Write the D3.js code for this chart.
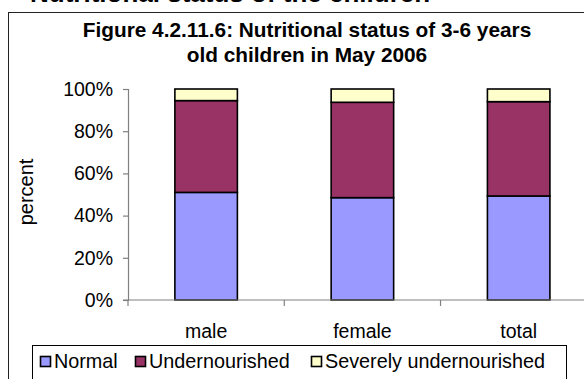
<!DOCTYPE html>
<html>
<head>
<meta charset="utf-8">
<script src="https://cdn.jsdelivr.net/npm/d3@7"></script>
<style>
  html, body { margin: 0; padding: 0; background: #fff; }
  svg { display: block; font-family: Arial, "Liberation Sans", Helvetica, sans-serif; }
</style>
</head>
<body>
<svg id="chart" width="584" height="379"></svg>
<script>
// Nutritional status of 3-6 year old children, May 2006 (percent of each group)
const categories = ["male", "female", "total"];
const seriesNames = ["Normal", "Undernourished", "Severely undernourished"];
const normal = [51.0, 48.5, 49.3];
const undernourished = [43.5, 45.2, 44.7];
const severe = [5.5, 6.3, 6.0];
const yTicks = [0, 20, 40, 60, 80, 100];
const colors = ["#9999FF", "#993366", "#FFFFCC"];

const svg = d3.select("#chart");

// Page heading running off the top edge
svg.append("text")
  .attr("x", 30).attr("y", 1.5)
  .attr("font-size", 26).attr("font-weight", "bold")
  .attr("fill", "#000")
  .text("Nutritional status of the children");

// Chart area frame
svg.append("rect")
  .attr("x", 8.5).attr("y", 12.5)
  .attr("width", 620).attr("height", 400)
  .attr("fill", "#fff").attr("stroke", "#222").attr("stroke-width", 1);

// Title
const title = svg.append("text")
  .attr("text-anchor", "middle")
  .attr("font-size", 20.8).attr("font-weight", "bold")
  .attr("fill", "#000");
title.append("tspan").attr("x", 307).attr("y", 37).text("Figure 4.2.11.6: Nutritional status of 3-6 years");
title.append("tspan").attr("x", 307).attr("y", 62).text("old children in May 2006");

// Stack the three series per category
const rows = categories.map((c, i) => ({
  cat: c,
  Normal: normal[i],
  Undernourished: undernourished[i],
  "Severely undernourished": severe[i]
}));
const stacked = d3.stack().keys(seriesNames)(rows);

const plot = { left: 128, right: 596.8, top: 89, bottom: 300 };

const x = d3.scaleBand()
  .domain(categories)
  .range([plot.left, plot.right])
  .paddingInner(0.6).paddingOuter(0.3);
const xStep = x.step();

const y = d3.scaleLinear().domain([0, 100]).range([plot.bottom, plot.top]);

// Bars
svg.append("g")
  .selectAll("g")
  .data(stacked)
  .join("g")
    .attr("fill", (d, i) => colors[i])
  .selectAll("rect")
  .data(d => d)
  .join("rect")
    .attr("x", d => x(d.data.cat))
    .attr("width", x.bandwidth())
    .attr("y", d => y(d[1]))
    .attr("height", d => y(d[0]) - y(d[1]))
    .attr("stroke", "#000")
    .attr("stroke-width", 1.6);

// Y axis
const yAxis = d3.axisLeft(y)
  .tickValues(yTicks)
  .tickFormat(d => d + "%")
  .tickSize(5)
  .tickPadding(10);
const gy = svg.append("g")
  .attr("transform", `translate(${plot.left},0)`)
  .call(yAxis);
gy.select(".domain").attr("stroke", "#808080").attr("stroke-width", 1.2);
gy.selectAll(".tick line").attr("stroke", "#808080").attr("stroke-width", 1.2);
gy.selectAll(".tick text")
  .attr("font-size", 19.5).attr("fill", "#000")
  .attr("font-family", "Arial, 'Liberation Sans', sans-serif");

// X axis: ticks sit between categories, labels centred under the bars
const boundaries = d3.range(categories.length + 1).map(i => plot.left + i * xStep);
const gx = svg.append("g");
gx.append("line")
  .attr("x1", plot.left - 5).attr("x2", plot.right)
  .attr("y1", plot.bottom).attr("y2", plot.bottom)
  .attr("stroke", "#808080").attr("stroke-width", 1.2);
gx.selectAll("line.tk")
  .data(boundaries)
  .join("line")
    .attr("class", "tk")
    .attr("x1", d => d).attr("x2", d => d)
    .attr("y1", plot.bottom).attr("y2", plot.bottom + 6)
    .attr("stroke", "#808080").attr("stroke-width", 1.2);
gx.selectAll("text")
  .data(categories)
  .join("text")
    .attr("x", d => x(d) + x.bandwidth() / 2)
    .attr("y", 338)
    .attr("text-anchor", "middle")
    .attr("font-size", 19.5)
    .attr("fill", "#000")
    .text(d => d);

// Y axis title
svg.append("text")
  .attr("transform", "translate(33,192) rotate(-90)")
  .attr("text-anchor", "middle")
  .attr("font-size", 20)
  .attr("fill", "#000")
  .text("percent");

// Legend
const legend = svg.append("g");
legend.append("rect")
  .attr("x", 32.5).attr("y", 345.5)
  .attr("width", 534).attr("height", 60)
  .attr("fill", "#fff").attr("stroke", "#000").attr("stroke-width", 1);

const legendX = [40, 135, 311];
const items = legend.selectAll("g.item")
  .data(seriesNames)
  .join("g")
    .attr("class", "item")
    .attr("transform", (d, i) => `translate(${legendX[i]},0)`);
items.append("rect")
  .attr("x", 0.5).attr("y", 356.5)
  .attr("width", 10).attr("height", 10)
  .attr("fill", (d, i) => colors[i])
  .attr("stroke", "#000").attr("stroke-width", 1.6);
items.append("text")
  .attr("x", 14).attr("y", 368)
  .attr("font-size", 19.8)
  .attr("fill", "#000")
  .text(d => d);
</script>
</body>
</html>
